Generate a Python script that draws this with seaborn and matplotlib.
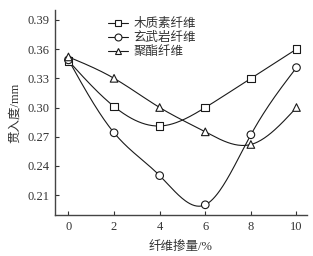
import numpy as np
import pandas as pd
import matplotlib
matplotlib.use("Agg")
import matplotlib.pyplot as plt
import seaborn as sns

x_vals = [0, 2, 4, 6, 8, 10]
lignin = [0.348, 0.301, 0.281, 0.300, 0.330, 0.360]
basalt = [0.349, 0.274, 0.230, 0.200, 0.272, 0.341]
polyester = [0.352, 0.330, 0.300, 0.275, 0.262, 0.300]
series_names = ["木质素纤维", "玄武岩纤维", "聚酯纤维"]
markers = ["s", "o", "^"]
x_ticks = [0, 2, 4, 6, 8, 10]
y_ticks = [0.21, 0.24, 0.27, 0.30, 0.33, 0.36, 0.39]

sns.set_theme(style="ticks")
plt.rcParams['font.family'] = ['Liberation Serif', 'Noto Sans CJK SC']
plt.rcParams['xtick.direction'] = 'in'
plt.rcParams['ytick.direction'] = 'in'

def spline(x, y, n=200):
    x = np.asarray(x, float); y = np.asarray(y, float)
    k = len(x) - 1
    h = np.diff(x)
    A = np.zeros((k + 1, k + 1)); b = np.zeros(k + 1)
    A[0, 0] = A[k, k] = 1
    for i in range(1, k):
        A[i, i - 1] = h[i - 1]; A[i, i] = 2 * (h[i - 1] + h[i]); A[i, i + 1] = h[i]
        b[i] = 3 * ((y[i + 1] - y[i]) / h[i] - (y[i] - y[i - 1]) / h[i - 1])
    c = np.linalg.solve(A, b)
    xs = np.linspace(x[0], x[-1], n)
    ys = np.empty_like(xs)
    for j, xv in enumerate(xs):
        i = min(np.searchsorted(x, xv, side='right') - 1, k - 1)
        d = xv - x[i]
        bb = (y[i + 1] - y[i]) / h[i] - h[i] * (2 * c[i] + c[i + 1]) / 3
        dd = (c[i + 1] - c[i]) / (3 * h[i])
        ys[j] = y[i] + bb * d + c[i] * d ** 2 + dd * d ** 3
    return xs, ys

fig, ax = plt.subplots(figsize=(3.13, 2.56), dpi=100)
col = "#1a1a1a"
rows = []
for name, vals in zip(series_names, [lignin, basalt, polyester]):
    for xv, yv in zip(x_vals, vals):
        rows.append({"x": xv, "y": yv, "s": name})
df = pd.DataFrame(rows)

for name, vals, m in zip(series_names, [lignin, basalt, polyester], markers):
    xs, ys = spline(x_vals, vals)
    sns.lineplot(x=xs, y=ys, ax=ax, color=col, lw=0.8, legend=False)
    ax.plot([], [], color=col, lw=0.8, marker=m, markersize=5, mfc='white', mec=col, mew=0.8, label=name)
sns.scatterplot(data=df, x="x", y="y", style="s", markers=dict(zip(series_names, markers)),
                ax=ax, s=30, facecolor='white', edgecolor=col, linewidth=0.8, legend=False, zorder=5)

ax.set_xlim(-0.6, 10.45)
ax.set_ylim(0.19, 0.40)
ax.set_xticks(x_ticks)
ax.set_yticks(y_ticks)
ax.set_yticklabels([f"{v:.2f}" for v in y_ticks])
ax.tick_params(labelsize=9, colors="#333333", length=3, width=0.8)
ax.tick_params(axis='x', pad=5)
for s in ["top", "right"]:
    ax.spines[s].set_visible(False)
for s in ["left", "bottom"]:
    ax.spines[s].set_color("#444444")
    ax.spines[s].set_linewidth(1.0)
ax.set_xlabel("纤维掺量/%", fontsize=9, color="#333333", labelpad=5)
ax.set_ylabel("贯入度/mm", fontsize=9, color="#333333", labelpad=5)
leg = ax.legend(loc="upper left", bbox_to_anchor=(0.192, 0.985), frameon=False, fontsize=9,
                handlelength=1.6, handletextpad=0.4, labelspacing=0.15, borderaxespad=0)
for t in leg.get_texts():
    t.set_color("#333333")
fig.subplots_adjust(left=0.175, right=0.98, bottom=0.162, top=0.96)
fig.savefig("out.png", dpi=100)
